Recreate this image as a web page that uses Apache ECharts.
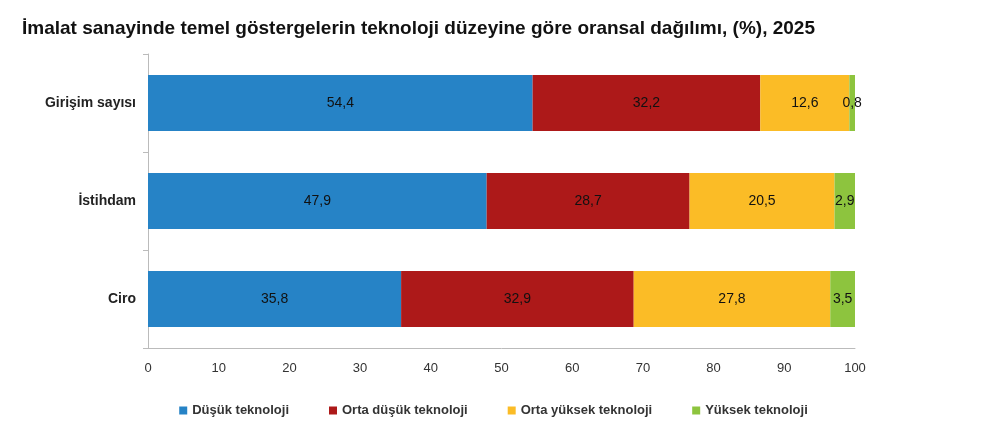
<!DOCTYPE html>
<html>
<head>
<meta charset="utf-8">
<script src="https://cdn.jsdelivr.net/npm/echarts@6/dist/echarts.min.js"></script>
</head>
<body style="margin:0">
<div id="main" style="width:987px;height:442px;"></div>
<script>
var categories = ['Ciro', 'İstihdam', 'Girişim sayısı'];
var seriesNames = ['Düşük teknoloji', 'Orta düşük teknoloji', 'Orta yüksek teknoloji', 'Yüksek teknoloji'];
var dusuk = [35.8, 47.9, 54.4];
var ortaDusuk = [32.9, 28.7, 32.2];
var ortaYuksek = [27.8, 20.5, 12.6];
var yuksek = [3.5, 2.9, 0.8];
var colors = ['#2683C6', '#AD1919', '#FBBC26', '#8DC43E'];

var chart = echarts.init(document.getElementById('main'));
var data = [dusuk, ortaDusuk, ortaYuksek, yuksek];
chart.setOption({
  textStyle: { fontFamily: '"Liberation Sans", Arial, sans-serif' },
  title: {
    text: 'İmalat sanayinde temel göstergelerin teknoloji düzeyine göre oransal dağılımı, (%), 2025',
    left: 17, top: 14,
    textStyle: { fontSize: 19, fontWeight: 'bold', color: '#111', fontFamily: '"Liberation Sans", Arial, sans-serif' }
  },
  legend: {
    bottom: 20, left: 'center', itemWidth: 8, itemHeight: 8, itemGap: 40, icon: 'rect',
    textStyle: { fontSize: 13, color: '#333', fontWeight: 'bold' }
  },
  grid: { left: 148, right: 132, top: 54, bottom: 94 },
  xAxis: {
    type: 'value', min: 0, max: 100, interval: 10,
    splitLine: { show: false },
    axisLine: { show: true, lineStyle: { color: '#bbb' } },
    axisTick: { show: false },
    axisLabel: { color: '#333', fontSize: 13, margin: 14 }
  },
  yAxis: {
    type: 'category', data: categories,
    axisLine: { lineStyle: { color: '#bbb' } },
    axisTick: { show: true, length: 5, lineStyle: { color: '#bbb' } },
    axisLabel: { color: '#222', fontSize: 14, margin: 12, fontWeight: 'bold' }
  },
  series: data.map(function (d, i) {
    return {
      name: seriesNames[i], type: 'bar', stack: 'all', barWidth: 56,
      itemStyle: { color: colors[i] },
      label: {
        show: true, position: 'inside', color: '#111', fontSize: 14,
        formatter: function (p) { return String(p.value).replace('.', ','); }
      },
      data: d
    };
  })
});
</script>
</body>
</html>
